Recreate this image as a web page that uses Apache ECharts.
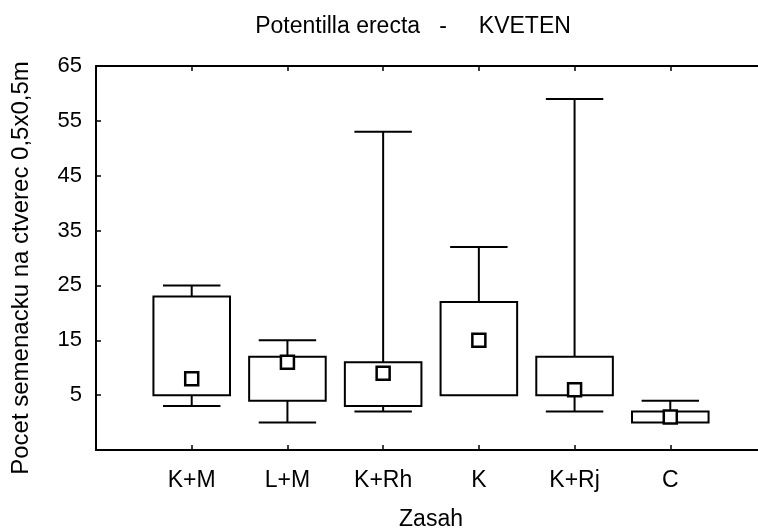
<!DOCTYPE html>
<html>
<head>
<meta charset="utf-8">
<script src="https://cdn.jsdelivr.net/npm/echarts@6/dist/echarts.min.js"></script>
<style>
  html, body { margin: 0; padding: 0; background: #fff; }
  #chart { width: 758px; height: 530px; }
</style>
</head>
<body>
<div id="chart"></div>
<script>
// Treatments on the x axis
const categories = ['K+M', 'L+M', 'K+Rh', 'K', 'K+Rj', 'C'];
// Per-treatment summary: whisker ends, box edges and the centre marker
const minValues    = [3, 0, 2, 5, 2, 0];
const q1Values     = [5, 4, 3, 5, 5, 0];
const medianValues = [8, 11, 9, 15, 6, 1];
const q3Values     = [23, 12, 11, 22, 12, 2];
const maxValues    = [25, 15, 53, 32, 59, 4];
// Y ticks (the lowest tick at -5 carries no label)
const yMin = -5, yMax = 65, yStep = 10;

const FONT = "'Liberation Sans', Arial, sans-serif";

const seriesData = categories.map((c, i) => [
  i + 1, minValues[i], q1Values[i], medianValues[i], q3Values[i], maxValues[i]
]);

function renderBox(params, api) {
  const x = api.value(0);
  const pMin = api.coord([x, api.value(1)]);
  const pQ1 = api.coord([x, api.value(2)]);
  const pMed = api.coord([x, api.value(3)]);
  const pQ3 = api.coord([x, api.value(4)]);
  const pMax = api.coord([x, api.value(5)]);
  const band = api.size([1, 0])[0];
  const boxW = band * 0.8;
  const capW = band * 0.6;
  const sq = 13;
  const cx = pMed[0];
  const line = { stroke: '#000', lineWidth: 2, fill: null };
  const children = [];
  // upper whisker
  if (pMax[1] < pQ3[1]) {
    children.push({ type: 'line', shape: { x1: cx, y1: pQ3[1], x2: cx, y2: pMax[1] }, style: line });
  }
  children.push({ type: 'line', shape: { x1: cx - capW / 2, y1: pMax[1], x2: cx + capW / 2, y2: pMax[1] }, style: line });
  // lower whisker
  if (pMin[1] > pQ1[1]) {
    children.push({ type: 'line', shape: { x1: cx, y1: pQ1[1], x2: cx, y2: pMin[1] }, style: line });
    children.push({ type: 'line', shape: { x1: cx - capW / 2, y1: pMin[1], x2: cx + capW / 2, y2: pMin[1] }, style: line });
  }
  // box
  children.push({
    type: 'rect',
    shape: { x: cx - boxW / 2, y: pQ3[1], width: boxW, height: pQ1[1] - pQ3[1] },
    style: { stroke: '#000', lineWidth: 2, fill: '#fff' }
  });
  // centre marker
  children.push({
    type: 'rect',
    shape: { x: cx - sq / 2, y: pMed[1] - sq / 2, width: sq, height: sq },
    style: { stroke: '#000', lineWidth: 2.5, fill: '#fff' }
  });
  return { type: 'group', children };
}

const chart = echarts.init(document.getElementById('chart'), null, { renderer: 'canvas' });

const tickStyle = { show: true, inside: true, length: 5, lineStyle: { color: '#000', width: 1.5 } };
const frameLine = { show: true, onZero: false, lineStyle: { color: '#000', width: 2 } };

chart.setOption({
  animation: false,
  backgroundColor: '#fff',
  grid: {
    left: 96, top: 66, height: 384, width: 670,
    containLabel: false,
    outerBoundsMode: 'none',
    show: false
  },
  graphic: [
    {
      type: 'text', x: 413, y: 27,
      style: {
        text: 'Potentilla erecta   -     KVETEN', font: '23px ' + FONT,
        fill: '#000', align: 'center', verticalAlign: 'middle'
      }
    },
    {
      type: 'text', x: 21, y: 268, rotation: Math.PI / 2,
      style: {
        text: 'Pocet semenacku na ctverec 0,5x0,5m', font: '24px ' + FONT,
        fill: '#000', align: 'center', verticalAlign: 'middle'
      }
    }
  ],
  xAxis: [
    {
      type: 'value', min: 0, max: categories.length + 1, interval: 1,
      position: 'bottom',
      name: 'Zasah', nameLocation: 'middle', nameGap: 58,
      nameTextStyle: { fontFamily: FONT, fontSize: 23, color: '#000' },
      axisLine: frameLine,
      axisTick: tickStyle,
      splitLine: { show: false },
      axisLabel: {
        margin: 19, fontFamily: FONT, fontSize: 23, color: '#000',
        showMinLabel: false, showMaxLabel: false,
        formatter: v => categories[v - 1] || ''
      }
    },
    {
      type: 'value', min: 0, max: categories.length + 1, interval: 1,
      position: 'top',
      axisLine: frameLine,
      axisTick: tickStyle,
      splitLine: { show: false },
      axisLabel: { show: false }
    }
  ],
  yAxis: [
    {
      type: 'value', min: yMin, max: yMax, interval: yStep,
      position: 'left',
      axisLine: frameLine,
      axisTick: tickStyle,
      splitLine: { show: false },
      axisLabel: {
        margin: 14, fontFamily: FONT, fontSize: 22, color: '#000',
        formatter: v => (v === yMin ? '' : String(v))
      }
    },
    {
      type: 'value', min: yMin, max: yMax, interval: yStep,
      position: 'right',
      axisLine: frameLine,
      axisTick: tickStyle,
      splitLine: { show: false },
      axisLabel: { show: false }
    }
  ],
  series: [
    {
      type: 'custom',
      xAxisIndex: 0, yAxisIndex: 0,
      renderItem: renderBox,
      encode: { x: 0, y: [1, 2, 3, 4, 5] },
      data: seriesData,
      clip: false
    }
  ]
});
</script>
</body>
</html>
